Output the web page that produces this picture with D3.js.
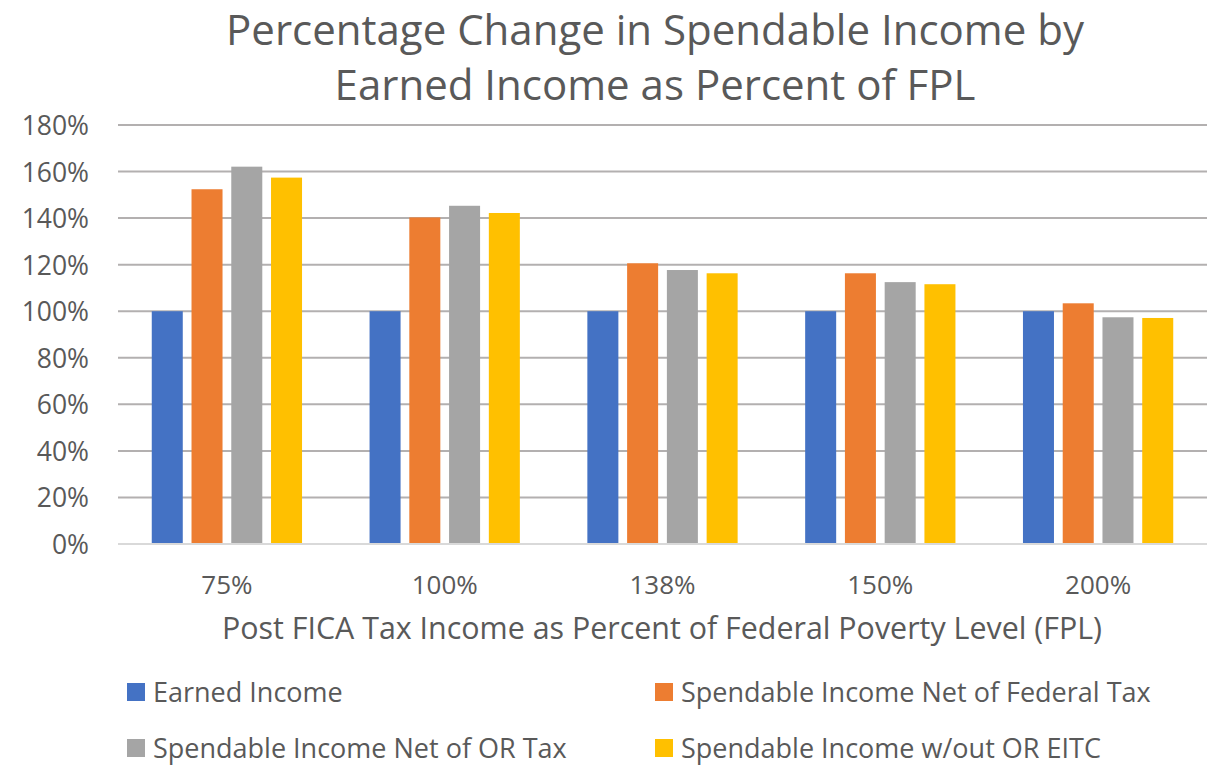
<!DOCTYPE html>
<html>
<head>
<meta charset="utf-8">
<script src="https://cdn.jsdelivr.net/npm/d3@7"></script>
<style>
  html, body { margin: 0; padding: 0; background: #fff; }
  svg { display: block; font-family: "Open Sans", sans-serif; }
</style>
</head>
<body>
<svg id="chart" width="1212" height="769"></svg>
<script>
const categories = ["75%", "100%", "138%", "150%", "200%"];
const seriesNames = [
  "Earned Income",
  "Spendable Income Net of Federal Tax",
  "Spendable Income Net of OR Tax",
  "Spendable Income w/out OR EITC"
];
const earnedIncome   = [1.00, 1.00, 1.00, 1.00, 1.00];
const netFederalTax  = [1.524, 1.403, 1.206, 1.163, 1.034];
const netORTax       = [1.621, 1.453, 1.177, 1.125, 0.974];
const withoutOREITC  = [1.574, 1.422, 1.163, 1.116, 0.971];
const yTicks = [0, 0.2, 0.4, 0.6, 0.8, 1.0, 1.2, 1.4, 1.6, 1.8];
const colors = ["#4472C4", "#ED7D31", "#A5A5A5", "#FFC000"];
const titleLines = ["Percentage Change in Spendable Income by", "Earned Income as Percent of FPL"];
const xTitle = "Post FICA Tax Income as Percent of Federal Poverty Level (FPL)";

const seriesValues = [earnedIncome, netFederalTax, netORTax, withoutOREITC];
const svg = d3.select("#chart");
const textColor = "#595959";

const plot = { left: 118, right: 1207, top: 125, bottom: 544 };

const y = d3.scaleLinear().domain([0, 1.8]).range([plot.bottom, plot.top]);
const x0 = d3.scaleBand().domain(categories).range([plot.left, plot.right])
  .paddingInner(0.31).paddingOuter(0.155);
const x1 = d3.scaleBand().domain(seriesNames).range([0, x0.bandwidth()])
  .paddingInner(0.22).paddingOuter(0);

// gridlines
svg.append("g").selectAll("line")
  .data(yTicks.filter(d => d > 0))
  .join("line")
  .attr("x1", plot.left).attr("x2", plot.right)
  .attr("y1", d => y(d)).attr("y2", d => y(d))
  .attr("stroke", "#b3b0b0").attr("stroke-width", 2);

// y axis labels
const yAxis = d3.axisLeft(y).tickValues(yTicks).tickSize(0).tickPadding(0)
  .tickFormat(d => Math.round(d * 100) + "%");
const yg = svg.append("g").attr("transform", `translate(${plot.left - 29},0)`).call(yAxis);
yg.select(".domain").remove();
yg.selectAll("text").attr("fill", textColor).style("font-size", "26.5px")
  .style("font-family", "Open Sans, sans-serif").attr("dy", "0.36em");

// bars
const groups = svg.append("g").selectAll("g")
  .data(categories)
  .join("g")
  .attr("transform", d => `translate(${x0(d)},0)`);

groups.selectAll("rect")
  .data((c, i) => seriesNames.map((s, j) => ({ s, j, v: seriesValues[j][i] })))
  .join("rect")
  .attr("x", d => x1(d.s))
  .attr("width", x1.bandwidth())
  .attr("y", d => y(d.v))
  .attr("height", d => y(0) - y(d.v))
  .attr("fill", d => colors[d.j]);

// zero axis line
svg.append("line")
  .attr("x1", plot.left).attr("x2", plot.right)
  .attr("y1", y(0)).attr("y2", y(0))
  .attr("stroke", "#d9d9d9").attr("stroke-width", 2);

// x axis labels
const xAxis = d3.axisBottom(x0).tickSize(0).tickPadding(0);
const xg = svg.append("g").attr("transform", `translate(0,${plot.bottom})`).call(xAxis);
xg.select(".domain").remove();
xg.selectAll("text").attr("fill", textColor).style("font-size", "26px")
  .style("font-family", "Open Sans, sans-serif")
  .attr("y", 50).attr("dy", 0);

// x axis title
svg.append("text")
  .attr("x", 662).attr("y", 639)
  .attr("text-anchor", "middle")
  .attr("fill", textColor)
  .style("font-size", "30.4px")
  .text(xTitle);

// chart title
svg.append("g").selectAll("text")
  .data(titleLines)
  .join("text")
  .attr("x", 655)
  .attr("y", (d, i) => 45 + i * 55)
  .attr("text-anchor", "middle")
  .attr("fill", textColor)
  .style("font-size", "42px")
  .text(d => d);

// legend
const legendPos = [
  { x: 127, y: 683 }, { x: 655, y: 683 },
  { x: 127, y: 739 }, { x: 655, y: 739 }
];
const lg = svg.append("g").selectAll("g")
  .data(seriesNames)
  .join("g")
  .attr("transform", (d, i) => `translate(${legendPos[i].x},${legendPos[i].y})`);
lg.append("rect").attr("width", 18).attr("height", 18)
  .attr("fill", (d, i) => colors[i]);
lg.append("text").attr("x", 26).attr("y", 19)
  .attr("fill", textColor).style("font-size", "27px")
  .text(d => d);
</script>
</body>
</html>
